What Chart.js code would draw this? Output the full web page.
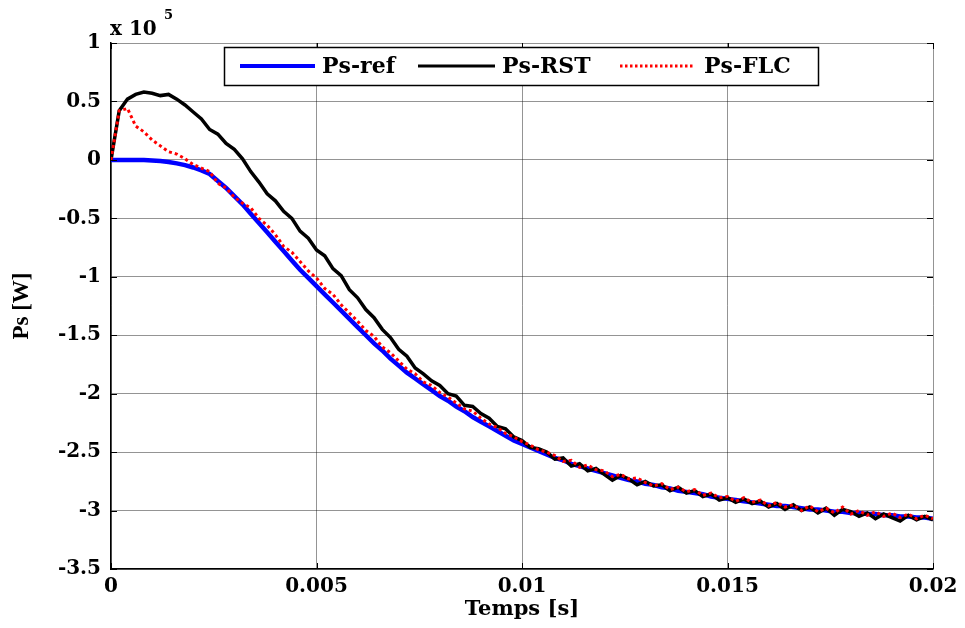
<!DOCTYPE html>
<html>
<head>
<meta charset="utf-8">
<script src="https://cdn.jsdelivr.net/npm/chart.js@4.4.1/dist/chart.umd.min.js"></script>
<style>
html,body{margin:0;padding:0;background:#fff;}
#wrap{width:965px;height:628px;position:relative;}
</style>
</head>
<body>
<div id="wrap"><canvas id="c" width="965" height="628"></canvas></div>
<script>
// Time samples [s]
const times = [
0,0.0002,0.0004,0.0006,0.0008,0.001,0.0012,0.0014,0.0016,0.0018,
0.002,0.0022,0.0024,0.0026,0.0028,0.003,0.0032,0.0034,0.0036,0.0038,
0.004,0.0042,0.0044,0.0046,0.0048,0.005,0.0052,0.0054,0.0056,0.0058,
0.006,0.0062,0.0064,0.0066,0.0068,0.007,0.0072,0.0074,0.0076,0.0078,
0.008,0.0082,0.0084,0.0086,0.0088,0.009,0.0092,0.0094,0.0096,0.0098,
0.01,0.0102,0.0104,0.0106,0.0108,0.011,0.0112,0.0114,0.0116,0.0118,
0.012,0.0122,0.0124,0.0126,0.0128,0.013,0.0132,0.0134,0.0136,0.0138,
0.014,0.0142,0.0144,0.0146,0.0148,0.015,0.0152,0.0154,0.0156,0.0158,
0.016,0.0162,0.0164,0.0166,0.0168,0.017,0.0172,0.0174,0.0176,0.0178,
0.018,0.0182,0.0184,0.0186,0.0188,0.019,0.0192,0.0194,0.0196,0.0198,
0.02];

// Values in units of 1e5 W
const psRef = [
0,0,0,0,-0.002,-0.005,-0.01,-0.018,-0.03,-0.045,
-0.065,-0.09,-0.12,-0.18,-0.24,-0.31,-0.38,-0.46,-0.54,-0.62,
-0.70,-0.78,-0.86,-0.94,-1.01,-1.08,-1.15,-1.22,-1.29,-1.36,
-1.43,-1.50,-1.57,-1.63,-1.70,-1.76,-1.82,-1.87,-1.92,-1.97,
-2.02,-2.06,-2.11,-2.15,-2.20,-2.24,-2.28,-2.32,-2.36,-2.40,
-2.43,-2.46,-2.49,-2.52,-2.55,-2.57,-2.60,-2.62,-2.64,-2.66,
-2.68,-2.70,-2.72,-2.74,-2.75,-2.77,-2.78,-2.80,-2.81,-2.83,
-2.84,-2.85,-2.86,-2.88,-2.89,-2.90,-2.91,-2.92,-2.93,-2.94,
-2.95,-2.96,-2.96,-2.97,-2.98,-2.99,-2.99,-3.00,-3.01,-3.01,
-3.02,-3.02,-3.03,-3.03,-3.04,-3.04,-3.05,-3.05,-3.06,-3.06,
-3.07];

const psRST = [
0,0.42,0.52,0.56,0.58,0.57,0.55,0.56,0.52,0.47,
0.41,0.35,0.26,0.22,0.14,0.09,0.01,-0.10,-0.19,-0.29,
-0.35,-0.44,-0.50,-0.61,-0.67,-0.77,-0.82,-0.93,-0.99,-1.11,
-1.18,-1.28,-1.35,-1.45,-1.52,-1.62,-1.68,-1.78,-1.83,-1.89,
-1.93,-2.00,-2.02,-2.10,-2.11,-2.17,-2.21,-2.28,-2.30,-2.37,
-2.40,-2.46,-2.47,-2.50,-2.56,-2.55,-2.62,-2.60,-2.66,-2.64,
-2.69,-2.74,-2.70,-2.73,-2.78,-2.75,-2.79,-2.78,-2.83,-2.80,
-2.85,-2.83,-2.88,-2.86,-2.91,-2.89,-2.93,-2.90,-2.94,-2.92,
-2.97,-2.94,-2.99,-2.95,-3.00,-2.97,-3.02,-2.98,-3.04,-2.99,
-3.01,-3.05,-3.02,-3.07,-3.03,-3.06,-3.09,-3.04,-3.08,-3.05,
-3.08];

const psFLC = [
0,0.42,0.44,0.29,0.24,0.17,0.12,0.07,0.05,0.01,
-0.04,-0.07,-0.10,-0.20,-0.24,-0.32,-0.37,-0.41,-0.50,-0.56,
-0.64,-0.74,-0.79,-0.87,-0.95,-1.01,-1.10,-1.15,-1.24,-1.31,
-1.38,-1.46,-1.51,-1.60,-1.65,-1.72,-1.79,-1.83,-1.90,-1.93,
-1.99,-2.03,-2.08,-2.13,-2.15,-2.21,-2.26,-2.29,-2.34,-2.37,
-2.41,-2.44,-2.48,-2.50,-2.53,-2.58,-2.57,-2.63,-2.61,-2.65,
-2.66,-2.71,-2.69,-2.73,-2.72,-2.76,-2.79,-2.77,-2.82,-2.80,
-2.84,-2.82,-2.87,-2.85,-2.89,-2.88,-2.92,-2.89,-2.93,-2.91,
-2.96,-2.93,-2.97,-2.95,-3.00,-2.96,-3.01,-2.98,-3.02,-2.97,
-3.03,-3.00,-3.04,-3.01,-3.05,-3.02,-3.06,-3.03,-3.07,-3.04,
-3.07];

const seriesNames = ['Ps-ref','Ps-RST','Ps-FLC'];
const xTickValues = [0,0.005,0.01,0.015,0.02];
const xTickLabels = ['0','0.005','0.01','0.015','0.02'];
const yTickValues = [-3.5,-3,-2.5,-2,-1.5,-1,-0.5,0,0.5,1];
const yTickLabels = ['-3.5','-3','-2.5','-2','-1.5','-1','-0.5','0','0.5','1'];

const toXY = (vals) => times.map((t,i) => ({x:t, y:vals[i]}));

const TICK_FONT = {family:'"DejaVu Serif"', size:20, weight:'bold'};

const overlayPlugin = {
  id:'overlay',
  afterDatasetsDraw(chart){
    const ctx = chart.ctx, a = chart.chartArea;
    const xs = chart.scales.x, ys = chart.scales.y;
    ctx.save();
    // inward tick marks
    ctx.strokeStyle = '#000'; ctx.lineWidth = 1;
    ctx.beginPath();
    yTickValues.forEach(v=>{
      const py = Math.round(ys.getPixelForValue(v))+0.5;
      ctx.moveTo(a.left, py); ctx.lineTo(a.left+6, py);
      ctx.moveTo(a.right, py); ctx.lineTo(a.right-6, py);
    });
    xTickValues.forEach(v=>{
      const px = Math.round(xs.getPixelForValue(v))+0.5;
      ctx.moveTo(px, a.bottom); ctx.lineTo(px, a.bottom-6);
      ctx.moveTo(px, a.top); ctx.lineTo(px, a.top+6);
    });
    ctx.stroke();

    // multiplier label
    ctx.fillStyle = '#000';
    ctx.textBaseline = 'alphabetic';
    ctx.textAlign = 'left';
    ctx.font = 'bold 20px "DejaVu Serif"';
    ctx.fillText('x 10', 110, 35);
    ctx.font = 'bold 13px "DejaVu Serif"';
    ctx.fillText('5', 164, 19);

    // legend box
    const lx = 224, ly = 47, lw = 594, lh = 38;
    ctx.fillStyle = '#fff';
    ctx.fillRect(lx, ly, lw, lh);
    ctx.strokeStyle = '#000'; ctx.lineWidth = 1.5;
    ctx.strokeRect(lx+0.5, ly+0.5, lw, lh);
    const cy = ly + lh/2;
    const items = [
      {x1:240, x2:315, tx:322, color:'#0000ff', w:4, dash:[]},
      {x1:418, x2:495, tx:502, color:'#000000', w:3, dash:[]},
      {x1:620, x2:695, tx:704, color:'#ff0000', w:3, dash:[2.5,2.5]}
    ];
    ctx.font = 'bold 22px "DejaVu Serif"';
    ctx.textBaseline = 'middle';
    items.forEach((it,i)=>{
      ctx.beginPath();
      ctx.strokeStyle = it.color; ctx.lineWidth = it.w; ctx.setLineDash(it.dash);
      ctx.moveTo(it.x1, cy); ctx.lineTo(it.x2, cy); ctx.stroke();
      ctx.setLineDash([]);
      ctx.fillStyle = '#000';
      ctx.fillText(seriesNames[i], it.tx, cy+1);
    });
    ctx.restore();
  }
};

new Chart(document.getElementById('c'), {
  type:'line',
  data:{
    datasets:[
      {label:seriesNames[0], data:toXY(psRef), borderColor:'#0000ff', borderWidth:4.5, pointRadius:0, tension:0, order:2},
      {label:seriesNames[1], data:toXY(psRST), borderColor:'#000000', borderWidth:3.5, pointRadius:0, tension:0, order:1},
      {label:seriesNames[2], data:toXY(psFLC), borderColor:'#ff0000', borderWidth:3, borderDash:[3,3], pointRadius:0, tension:0, order:0}
    ]
  },
  options:{
    responsive:false,
    animation:false,
    layout:{padding:{top:43, right:32, left:0, bottom:0}},
    plugins:{legend:{display:false}, tooltip:{enabled:false}},
    scales:{
      x:{
        type:'linear', min:0, max:0.02,
        afterBuildTicks:(s)=>{ s.ticks = xTickValues.map(v=>({value:v})); },
        afterFit:(s)=>{ s.height = 59; },
        ticks:{color:'#000', font:TICK_FONT, padding:6, maxRotation:0,
          callback:(v,i)=>xTickLabels[i]},
        grid:{color:'rgba(0,0,0,0.42)', lineWidth:1, drawTicks:false},
        border:{color:'#000', width:1.5},
        title:{display:true, text:'Temps [s]', color:'#000',
          font:{family:'"DejaVu Serif"', size:21, weight:'bold'}, padding:{top:0,bottom:6}}
      },
      y:{
        type:'linear', min:-3.5, max:1,
        afterBuildTicks:(s)=>{ s.ticks = yTickValues.map(v=>({value:v})); },
        afterFit:(s)=>{ s.width = 111; },
        ticks:{color:'#000', font:TICK_FONT, padding:10,
          callback:(v,i)=>yTickLabels[i]},
        grid:{color:'rgba(0,0,0,0.42)', lineWidth:1, drawTicks:false},
        border:{color:'#000', width:1.5},
        title:{display:true, text:'Ps [W]', color:'#000',
          font:{family:'"Liberation Serif"', size:23, weight:'bold'}, padding:{top:8,bottom:0}}
      }
    }
  },
  plugins:[overlayPlugin]
});
</script>
</body>
</html>
